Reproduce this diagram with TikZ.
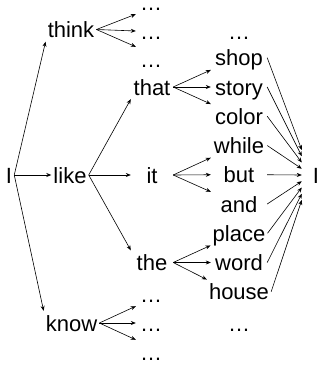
\documentclass[tikz,border=0pt]{standalone}
\usepackage{fontspec}
\setmainfont{Liberation Sans}
\usetikzlibrary{arrows.meta}

\begin{document}
\begin{tikzpicture}[x=1pt, y=-1pt,
    every node/.style={font=\fontsize{22}{26}\selectfont, inner sep=2pt, text height=18pt, text depth=2pt},
    midbox/.style={minimum width=42pt},
    wordbox/.style={minimum width=56pt},
    dotbox/.style={minimum width=30pt},
    arr/.style={-{Stealth[length=5pt,width=4pt]}, line width=0.6pt}]
    \useasboundingbox (0,0) rectangle (320,367);

    % first and second word
    \node (Ileft) at (9,175) {I};
    \node (think) at (71,29.5) {think};
    \node (like)  at (70,175) {like};
    \node (know)  at (71.5,323) {know};

    \node[midbox] (that) at (152,87)    {that};
    \node[midbox] (it)   at (152,175)   {it};
    \node[midbox] (the)  at (152,262.5) {the};

    \node[dotbox] (t1) at (151,2) {…};
    \node[dotbox] (t2) at (151,31) {…};
    \node[dotbox] (t3) at (151,59) {…};
    \node[dotbox] (k1) at (151,294) {…};
    \node[dotbox] (k2) at (151,323) {…};
    \node[dotbox] (k3) at (151,352) {…};

    % third word
    \node (rtop) at (239,31) {…};
    \node[wordbox] (shop)  at (239,57.75)  {shop};
    \node[wordbox] (story) at (239,87)     {story};
    \node[wordbox] (color) at (239,116.25) {color};
    \node[wordbox] (while) at (239,145.5)  {while};
    \node[wordbox] (but)   at (239,174.75) {but};
    \node[wordbox] (and)   at (239,204)    {and};
    \node[wordbox] (place) at (239,233.25) {place};
    \node[wordbox] (word)  at (239,262.5)  {word};
    \node[wordbox] (house) at (239,291.75) {house};
    \node (rbot) at (239,323) {…};

    \node[minimum width=28pt] (Iright) at (316,175) {I};

    \draw[arr] (Ileft.east) -- (think.south west);
    \draw[arr] (Ileft.east) -- (like.west);
    \draw[arr] (Ileft.east) -- (know.north west);

    \draw[arr] (like.east) -- (that.south west);
    \draw[arr] (like.east) -- (it.west);
    \draw[arr] (like.east) -- (the.north west);

    \draw[arr] (think.east) -- (t1.south west);
    \draw[arr] (think.east) -- (t2.west);
    \draw[arr] (think.east) -- (t3.north west);
    \draw[arr] (know.east) -- (k1.south west);
    \draw[arr] (know.east) -- (k2.west);
    \draw[arr] (know.east) -- (k3.north west);

    \draw[arr] (that.east) -- (shop.south west);
    \draw[arr] (that.east) -- (story.west);
    \draw[arr] (that.east) -- (color.north west);
    \draw[arr] (it.east) -- (while.south west);
    \draw[arr] (it.east) -- (but.west);
    \draw[arr] (it.east) -- (and.north west);
    \draw[arr] (the.east) -- (place.south west);
    \draw[arr] (the.east) -- (word.west);
    \draw[arr] (the.east) -- (house.north west);

    % all third words lead back to I
    \foreach \w [count=\i] in {shop,story,color,while,but,and,place,word,house}
        \draw[arr] (\w.east) -- ([yshift={(5-\i)*6.25pt}]Iright.west);
\end{tikzpicture}
\end{document}
